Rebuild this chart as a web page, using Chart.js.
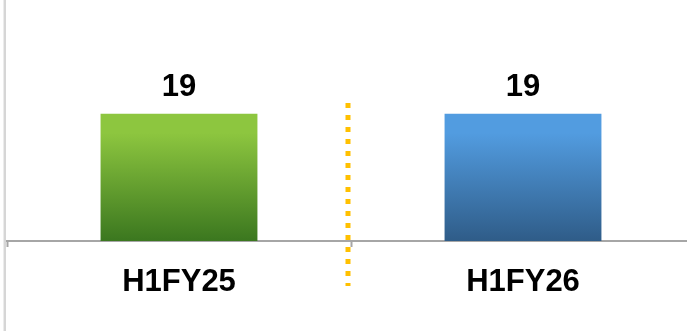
<!DOCTYPE html>
<html lang="en">
<head>
    <meta charset="UTF-8">
    <title>H1 comparison</title>
    <script src="https://cdn.jsdelivr.net/npm/chart.js@4.4.1/dist/chart.umd.min.js"></script>
    <style>
        html, body {
            margin: 0;
            padding: 0;
            background: #fff;
            overflow: hidden;
        }
        .chart-box {
            position: relative;
            width: 695px;
            height: 331px;
        }
    </style>
</head>
<body>
    <div class="chart-box">
        <canvas id="halfYearChart"></canvas>
    </div>

    <script>
        // Chart data
        const periods = ['H1FY25', 'H1FY26'];
        const values = [19, 19];
        const yMin = 0;
        const yMax = 36;

        // Bar gradient colours (top -> bottom)
        const topColors = ['#8dc63f', '#529ce0'];
        const bottomColors = ['#3b771f', '#2f5c88'];

        const labelFont = 'bold 31px "Liberation Sans", Arial, sans-serif';

        function barGradient(context) {
            const chart = context.chart;
            const area = chart.chartArea;
            const i = context.dataIndex;
            if (!area) return topColors[i];
            const yScale = chart.scales.y;
            const top = yScale.getPixelForValue(values[i]);
            const g = chart.ctx.createLinearGradient(0, top, 0, area.bottom);
            g.addColorStop(0, topColors[i]);
            g.addColorStop(0.15, topColors[i]);
            g.addColorStop(1, bottomColors[i]);
            return g;
        }

        // Left edge line, dotted divider and value labels
        const decorations = {
            id: 'decorations',
            beforeDraw(chart) {
                const ctx = chart.ctx;
                ctx.save();
                ctx.fillStyle = '#ececec';
                ctx.fillRect(3, 0, 1, chart.height);
                ctx.fillStyle = '#d6d6d6';
                ctx.fillRect(4, 0, 2, chart.height);
                ctx.restore();
            },
            afterDatasetsDraw(chart) {
                const ctx = chart.ctx;
                const x = chart.scales.x;
                const mid = (x.getPixelForValue(0) + x.getPixelForValue(1)) / 2 - 3;

                ctx.save();
                ctx.strokeStyle = '#ffc000';
                ctx.lineWidth = 5;
                ctx.setLineDash([5, 7]);
                ctx.beginPath();
                ctx.moveTo(mid, 103);
                ctx.lineTo(mid, 286);
                ctx.stroke();
                ctx.restore();

                const meta = chart.getDatasetMeta(0);
                ctx.save();
                ctx.font = labelFont;
                ctx.fillStyle = '#000';
                ctx.textAlign = 'center';
                ctx.textBaseline = 'alphabetic';
                meta.data.forEach((bar, i) => {
                    ctx.fillText(String(values[i]), bar.x, bar.y - 18);
                });
                ctx.restore();
            }
        };

        new Chart(document.getElementById('halfYearChart'), {
            type: 'bar',
            data: {
                labels: periods,
                datasets: [{
                    data: values,
                    backgroundColor: barGradient,
                    borderWidth: 0,
                    barPercentage: 0.456,
                    categoryPercentage: 1
                }]
            },
            options: {
                responsive: true,
                maintainAspectRatio: false,
                animation: false,
                layout: { padding: { left: 7, top: 0, right: 0, bottom: 0 } },
                plugins: {
                    legend: { display: false },
                    tooltip: { enabled: false }
                },
                scales: {
                    x: {
                        afterFit(scale) { scale.height = 90; },
                        grid: {
                            drawOnChartArea: false,
                            drawTicks: true,
                            tickLength: 6,
                            tickWidth: 2,
                            color: '#a6a6a6'
                        },
                        border: { display: true, color: '#a6a6a6', width: 2 },
                        ticks: {
                            color: '#000',
                            padding: 17,
                            font: { family: '"Liberation Sans", Arial, sans-serif', size: 31, weight: 'bold' }
                        }
                    },
                    y: {
                        display: false,
                        min: yMin,
                        max: yMax
                    }
                }
            },
            plugins: [decorations]
        });
    </script>
</body>
</html>
